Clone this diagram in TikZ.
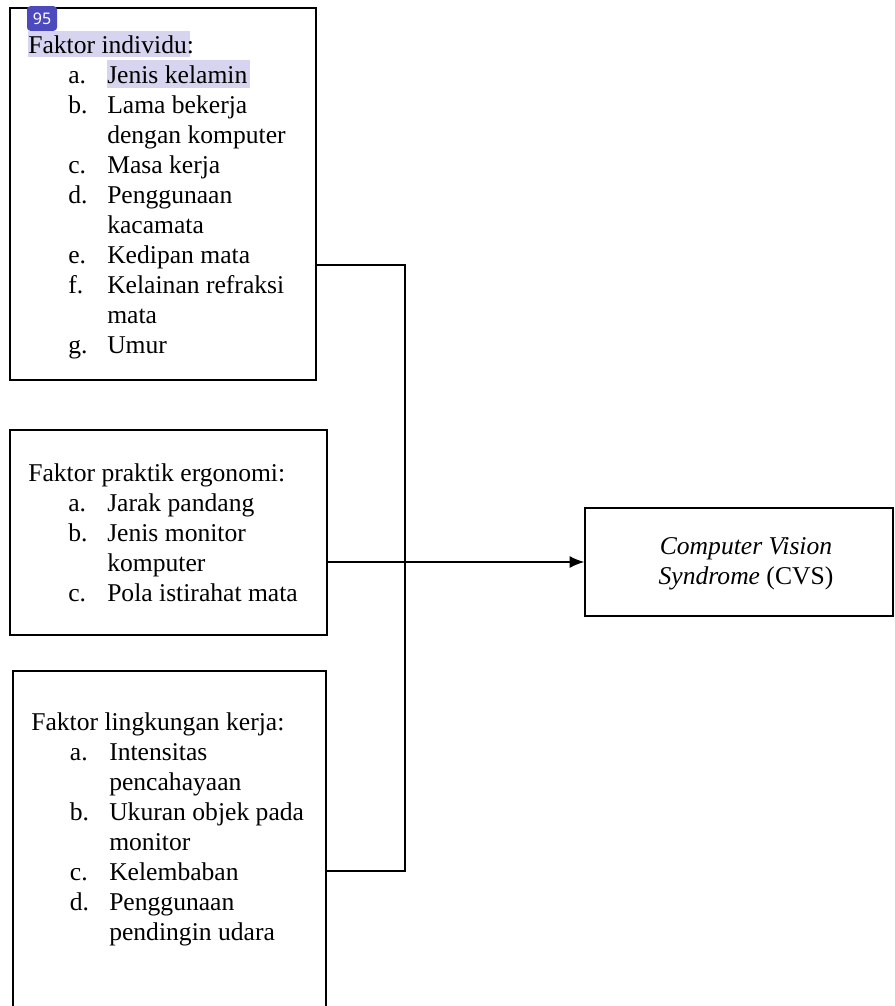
\documentclass[tikz,border=0pt]{standalone}
\usepackage{fontspec}
\setmainfont{Liberation Serif}
\newfontfamily\badgefont{Noto Sans}
\usetikzlibrary{arrows.meta,fit}
\definecolor{hilite}{HTML}{D6D4EE}
\definecolor{badgeblue}{HTML}{4D4ABD}
\newcommand{\listfont}{\fontsize{19.2}{22.5}\selectfont}
\tikzset{
  box/.style={draw, line width=1.1pt, inner sep=0pt},
  listtext/.style={anchor=base west, inner sep=0pt, font=\listfont},
  link/.style={line width=1.1pt},
}
\begin{document}
\begin{tikzpicture}[x=0.75pt,y=-0.75pt]
  \useasboundingbox (0,0) rectangle (895,1006);
  \clip (0,0) rectangle (895,1006);
  % highlights
  \fill[hilite] (28,31) rectangle (190,57);
  \fill[hilite] (107,60) rectangle (250,88);
  % boxes
  \node[box, fit={(10,8) (316,380)}] (ind) {};
  \node[box, fit={(10,430) (327,635)}] (erg) {};
  \node[box, fit={(13,671) (326,1071)}] (env) {};
  \node[box, fit={(585,508) (893,616)}] (cvs) {};
  % badge
  \node[fill=badgeblue, rounded corners=2.5pt, inner sep=0pt, minimum width=22.5pt,
        minimum height=18.5pt, text=white, font=\badgefont\fontsize{12}{14}\selectfont]
        (badge) at (42,18.5) {95};
  % texts
  \node[listtext] (indtext) at (28,54) {\begin{tabular}[t]{@{}p{59.25pt}@{}l@{}}
    \multicolumn{2}{@{}l@{}}{Faktor individu:}\\
    \hspace*{30pt}a. & Jenis kelamin\\
    \hspace*{30pt}b. & Lama bekerja\\
     & dengan komputer\\
    \hspace*{30pt}c. & Masa kerja\\
    \hspace*{30pt}d. & Penggunaan\\
     & kacamata\\
    \hspace*{30pt}e. & Kedipan mata\\
    \hspace*{30pt}f. & Kelainan refraksi\\
     & mata\\
    \hspace*{30pt}g. & Umur
  \end{tabular}};
  \node[listtext] (ergtext) at (28,481) {\begin{tabular}[t]{@{}p{59.25pt}@{}l@{}}
    \multicolumn{2}{@{}l@{}}{Faktor praktik ergonomi:}\\
    \hspace*{30pt}a. & Jarak pandang\\
    \hspace*{30pt}b. & Jenis monitor\\
     & komputer\\
    \hspace*{30pt}c. & Pola istirahat mata
  \end{tabular}};
  \node[listtext] (envtext) at (31,730) {\begin{tabular}[t]{@{}p{58.5pt}@{}l@{}}
    \multicolumn{2}{@{}l@{}}{Faktor lingkungan kerja:}\\
    \hspace*{29pt}a. & Intensitas\\
     & pencahayaan\\
    \hspace*{29pt}b. & Ukuran objek pada\\
     & monitor\\
    \hspace*{29pt}c. & Kelembaban\\
    \hspace*{29pt}d. & Penggunaan\\
     & pendingin udara
  \end{tabular}};
  \node[font=\listfont, align=center, inner sep=0pt] (cvstext) at (746,564)
    {\textit{Computer Vision}\\\textit{Syndrome} (CVS)};
  % connectors
  \coordinate (bustop) at (405,265);
  \coordinate (busbot) at (405,871);
  \draw[link] (ind.east |- bustop) -- (bustop) -- (busbot) -- (env.east |- busbot);
  \draw[link, -{Latex[length=11pt,width=9pt]}] (erg.east |- cvs.west) -- (cvs.west);
\end{tikzpicture}
\end{document}
